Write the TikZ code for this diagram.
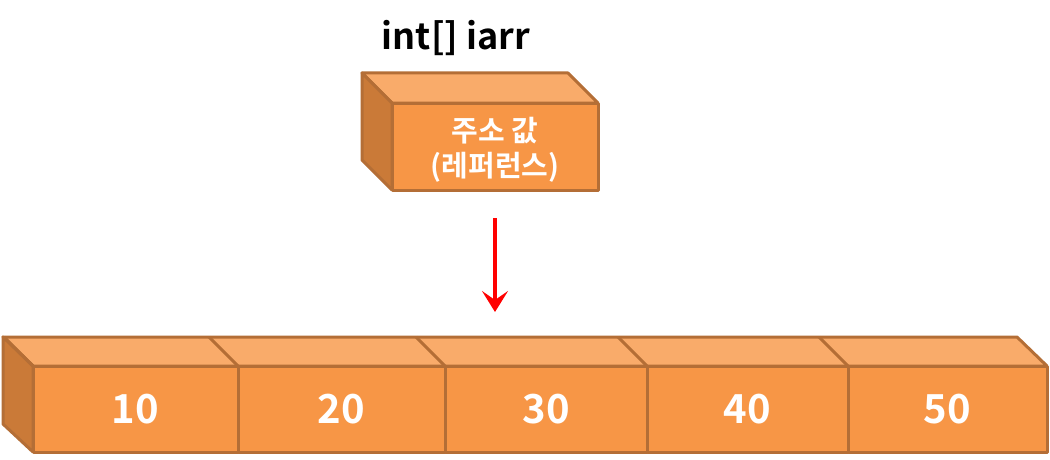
\documentclass[tikz,border=0pt]{standalone}
\usepackage{fontspec}
\setmainfont{Noto Sans CJK KR}[BoldFont={* Bold}]
\usetikzlibrary{arrows.meta}
\definecolor{frontc}{HTML}{F79646}
\definecolor{topc}{HTML}{F9AB6A}
\definecolor{sidec}{HTML}{CA7A38}
\definecolor{edgec}{HTML}{B46E36}
\tikzset{
  edge/.style={draw=edgec,line width=3pt,line join=round},
  numtxt/.style={text=white,font=\bfseries\fontsize{40}{46}\selectfont},
  krtxt/.style={text=white,font=\bfseries\fontsize{29}{35}\selectfont,align=center},
  reftxt/.style={text=black,font=\bfseries\fontsize{36}{40}\selectfont},
  refarrow/.style={draw=red,line width=4.5pt,-{Stealth[length=21pt,width=26pt,inset=9pt]}}
}
\begin{document}
\begin{tikzpicture}[x=1pt,y=-1pt]
\useasboundingbox (0,0) rectangle (1050,460);
% top box
\def\dx{-30}\def\dy{-30}
\path[edge,fill=topc] (392,103) -- (598,103) -- ++(\dx,\dy) -- (362,73) -- cycle;
\path[edge,fill=sidec] (392,103) -- (362,73) -- (362,160) -- (392,190) -- cycle;
\path[edge,fill=frontc] (392,103) rectangle (598,190);
\node[krtxt] (addr) at (495,150) {주소 값\\(레퍼런스)};
\node[reftxt] (label) at (456,38) {int[] iarr};
% bottom row
\path[edge,fill=topc] (33,366) -- (1047,366) -- (1017,337) -- (3,337) -- cycle;
\path[edge,fill=sidec] (33,366) -- (3,337) -- (3,424) -- (33,452) -- cycle;
\foreach \a/\b/\v [count=\i] in {33/238/10,238/445/20,445/647/30,647/848/40,848/1047/50}{
  \path[edge,fill=frontc] (\a,366) rectangle (\b,452);
  \draw[edge] (\a,366) -- ++(-29,-29);
  \node[numtxt] (c\i) at ({(\a+\b)/2},409) {\v};
}
\coordinate (arrs) at (495,218);
\coordinate (arre) at (495,312);
\draw[refarrow] (arrs) -- (arre);
\end{tikzpicture}
\end{document}
